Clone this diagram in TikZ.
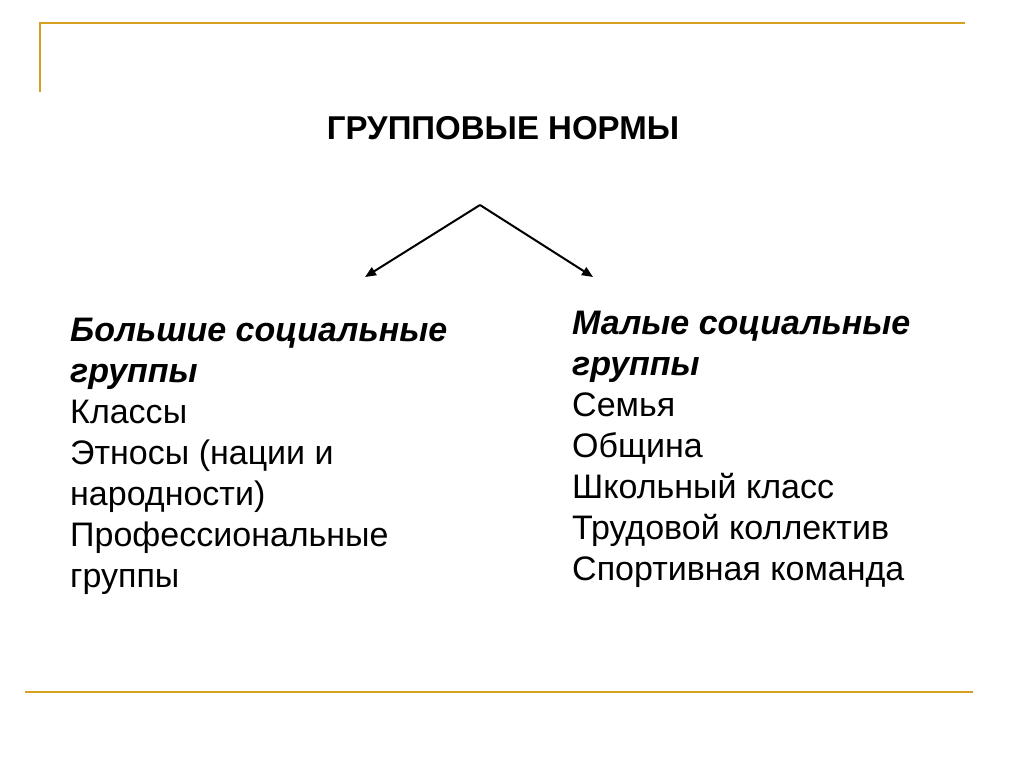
\documentclass[tikz,border=0pt]{standalone}
\usepackage{fontspec}
\setmainfont{Liberation Sans}
\usetikzlibrary{arrows.meta}
\definecolor{gold}{RGB}{214,160,32}
\tikzset{
  frame/.style={draw=gold, line width=2.8pt},
  conn/.style={draw=black, line width=2pt, -{Triangle[length=11pt,width=9pt]}},
  line/.style={anchor=base west, inner sep=0pt, font=\fontsize{34}{41}\selectfont},
  head/.style={line, font=\fontsize{34}{41}\selectfont\bfseries\itshape},
}
\begin{document}
\begin{tikzpicture}[x=1pt,y=-1pt]
\useasboundingbox (0,0) rectangle (1024,767);
\draw[frame] (40,92) -- (40,23) -- (965,23);
\draw[frame] (25,692) -- (973,692);
\node[inner sep=0pt, anchor=base, font=\fontsize{33}{40}\selectfont\bfseries] (title) at (503,140) {ГРУППОВЫЕ НОРМЫ};
\coordinate (apex) at (480,205);
\coordinate (la) at (365,277);
\coordinate (ra) at (593,277);
\draw[conn] (apex) -- (la);
\draw[conn] (apex) -- (ra);
% left block
\node[head] (l1) at (70,341) {Большие социальные};
\node[head] (l2) at (70,382) {группы};
\node[line] (l3) at (70,423) {Классы};
\node[line] (l4) at (70,464) {Этносы (нации и};
\node[line] (l5) at (70,505) {народности)};
\node[line] (l6) at (70,546) {Профессиональные};
\node[line] (l7) at (70,587) {группы};
% right block
\node[head] (r1) at (572,334) {Малые социальные};
\node[head] (r2) at (572,375) {группы};
\node[line] (r3) at (572,416) {Семья};
\node[line] (r4) at (572,457) {Община};
\node[line] (r5) at (572,498) {Школьный класс};
\node[line] (r6) at (572,539) {Трудовой коллектив};
\node[line] (r7) at (572,580) {Спортивная команда};
\end{tikzpicture}
\end{document}
